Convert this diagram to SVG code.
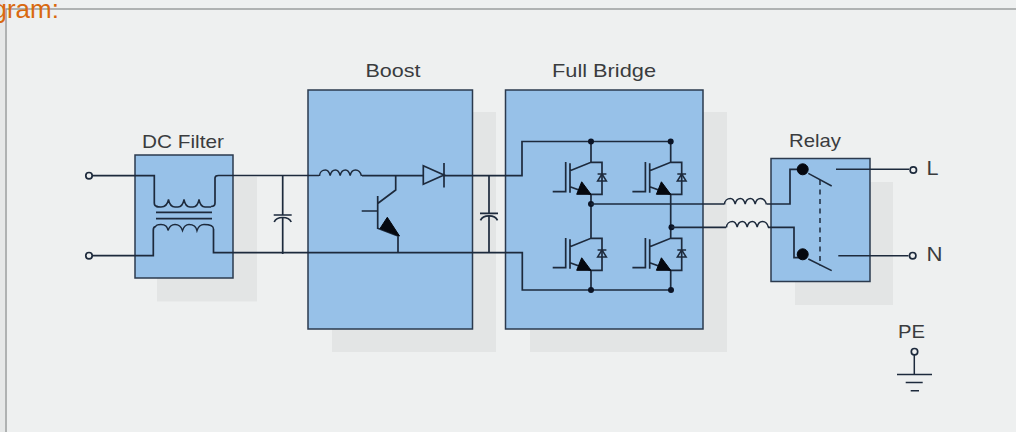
<svg xmlns="http://www.w3.org/2000/svg" width="1016" height="432" viewBox="0 0 1016 432">
<style>
text{font-family:"Liberation Sans",Arial,sans-serif;fill:#3a3c3e}
.lbl{font-size:18.5px;text-anchor:middle}
.box{fill:#97c1e8;stroke:#2b3a4e;stroke-width:1.5}
.shadow{fill:#e3e5e5}
.w{fill:none;stroke:#1d2a3c;stroke-width:1.7}
.t{fill:none;stroke:#1d2a3c;stroke-width:1.5}
.dot{fill:#0b1426}
.blk{fill:#05080f;stroke:#05080f;stroke-width:1;stroke-linejoin:round}
.term{fill:#eef0f0;stroke:#1d2a3c;stroke-width:1.7}
</style>
<defs>
<g id="igbt">
<path class="w" d="M-38.3 29.4H-25.3V-.3M-21 1V30.4M-21 8.4L0 0H11V32H0L-21 24.4"/>
<path class="blk" d="M-14.3 32L-9.3 19.5L0 32Z"/>
<path class="t" d="M6.6 18.7H15.4L11 11.7ZM6.6 11.7H15.4"/>
</g>
<path id="coil" class="t" d="M0 4C0 0 3 -2 6 -2C8.500 -2 10 1 10.700 3.500C11.400 0 13 -2 16 -2C18.500 -2 20 1 20.700 3.500C21.400 0 23 -2 26 -2C28.500 -2 30 1 30.700 3.500C31.400 0 33 -2 36 -2C39 -2 41 0 42 4"/>
<path id="capb" class="w" d="M-9 0H9M-8.500 7C-7 3.500 -3 2.500 0 2.500C3 2.500 7 3.500 8.500 7"/>
</defs>
<rect width="1016" height="432" fill="#eef0f0"/>
<rect width="5" height="432" fill="#e6e8e8"/>
<path d="M6 432V9H1016" fill="none" stroke="#9b9d9d" stroke-width="1.500"/>
<text x="-7.500" y="17.500" style="font-size:26px;fill:#d9690f">gram:</text>

<rect class="shadow" x="157" y="177" width="100" height="124.500"/>
<rect class="shadow" x="332" y="112" width="164" height="240"/>
<rect class="shadow" x="530" y="112" width="197" height="240"/>
<rect class="shadow" x="795" y="182" width="98" height="123"/>

<g id="dc-filter">
<rect class="box" x="135" y="155" width="98" height="123"/>
<text class="lbl" x="183" y="148" textLength="82" lengthAdjust="spacingAndGlyphs">DC Filter</text>
</g>
<g id="boost">
<rect class="box" x="308" y="90" width="164.500" height="239"/>
<text class="lbl" x="393" y="76.500" textLength="55" lengthAdjust="spacingAndGlyphs">Boost</text>
</g>
<g id="full-bridge">
<rect class="box" x="505.500" y="90" width="197.500" height="239"/>
<text class="lbl" x="604" y="76.500" textLength="104" lengthAdjust="spacingAndGlyphs">Full Bridge</text>
</g>
<g id="relay">
<rect class="box" x="771" y="158.500" width="99" height="123"/>
<text class="lbl" x="815" y="146.500" textLength="52" lengthAdjust="spacingAndGlyphs">Relay</text>
</g>

<g id="connectors">
<path class="w" d="M92 175.700H154.300V203C154.300 205.500 156 206.500 158 206.500"/>
<path class="w" d="M92 255.700H153.300V230C153.300 228 154.500 226.500 156 226.500"/>
<path class="w" d="M308 175.500H218.500Q215 175.500 215 178V203C215 205.500 213 206.500 211 206.500"/>
<path class="w" d="M213.500 229V252.700H522.300V290H671"/>
<path class="t" d="M156 206.500C156 206.500 158 207 161 207C165 207 167.500 205 168.500 199.500C169.500 205 172 207 175 207H178C181 207 183 205 184 199.500C185 205 187 207 190 207H193C196 207 198 205 199 199.500C200 205 202 207 205 207H211"/>
<path class="t" d="M156 226.500C156 225 158 224.500 161 224.500C165 224.500 167.500 226 168 230.500C169.500 226 172 224.500 175 224.500C178 224.500 181 226 182.500 230.500C184 226 186 224.500 189 224.500C192 224.500 196 226 197 230.500C198.500 226 201 224.500 204 224.500C208 224.500 213.500 225 213.500 229"/>
<path class="w" d="M156 212.300H212M156 218.700H212"/>
<path class="w" d="M282.700 175.500V215M282.700 218V254"/>
<use href="#capb" x="282.700" y="215"/>
<path class="w" d="M308 175.500H319M362 175.700H423.300M444 175.700H522V141.500H670.700"/>
<use href="#coil" x="319.500" y="172"/>
<path class="w" d="M423.300 165.700V184.300L444 175ZM444 163V187.500"/>
<path class="w" d="M395.700 175.700V190L377.700 203.500M377.700 196V229M361.700 211H377.700M377.700 228.300L398 236V253"/>
<path class="blk" d="M380 228.500L387.300 217.300L399.500 236Z"/>
<path class="w" d="M489 175.700V213.300M489 216V253"/>
<use href="#capb" x="489" y="213.300"/>
<path class="w" d="M591 141.500V162.300M591 194.300V238.300M670.700 141.500V162.300M670.700 194.300V238.300M591 270.300V290M670.700 270.300V290"/>
<use href="#igbt" x="591" y="162.300"/>
<use href="#igbt" x="670.700" y="162.300"/>
<use href="#igbt" x="591" y="238.300"/>
<use href="#igbt" x="670.700" y="238.300"/>
<circle class="dot" cx="591" cy="141.500" r="3"/>
<circle class="dot" cx="670.700" cy="141.500" r="3"/>
<circle class="dot" cx="591" cy="204" r="3"/>
<circle class="dot" cx="671.500" cy="227.300" r="3"/>
<circle class="dot" cx="591" cy="290" r="3"/>
<circle class="dot" cx="671" cy="290" r="3"/>
<path class="w" d="M591 204H724M767 204H790V169.300H802M671.500 227.300H726M768 227.300H794V257.700H802"/>
<use href="#coil" x="724.500" y="200.500"/>
<use href="#coil" x="726.500" y="223.500"/>
<circle class="blk" cx="802.700" cy="169.300" r="5.500"/>
<circle class="blk" cx="802.700" cy="254.300" r="5.500"/>
<path class="t" d="M808.300 173.300L831.700 186M808.300 259L831.700 270.700"/>
<path class="t" d="M820 180V266" stroke-dasharray="5 4.500"/>
<path class="t" d="M836 169.300H909M838.300 255.700H908.500"/>
<circle class="term" cx="913.300" cy="170" r="3.200"/>
<circle class="term" cx="912.700" cy="255.700" r="3.200"/>
<circle class="term" cx="89" cy="175.700" r="3.200"/>
<circle class="term" cx="89" cy="255.700" r="3.200"/>
<circle class="term" cx="914.500" cy="351.700" r="3.200"/>
<path class="t" d="M914.300 355V374.500M897 374.500H932M905.700 382.500H922.700M910.700 390.700H919"/>
</g>
<text x="926.500" y="175" textLength="12" lengthAdjust="spacingAndGlyphs" style="font-size:20px">L</text>
<text x="926.500" y="261" textLength="16" lengthAdjust="spacingAndGlyphs" style="font-size:20px">N</text>
<text class="lbl" x="911.500" y="338" textLength="27" lengthAdjust="spacingAndGlyphs">PE</text>
</svg>
